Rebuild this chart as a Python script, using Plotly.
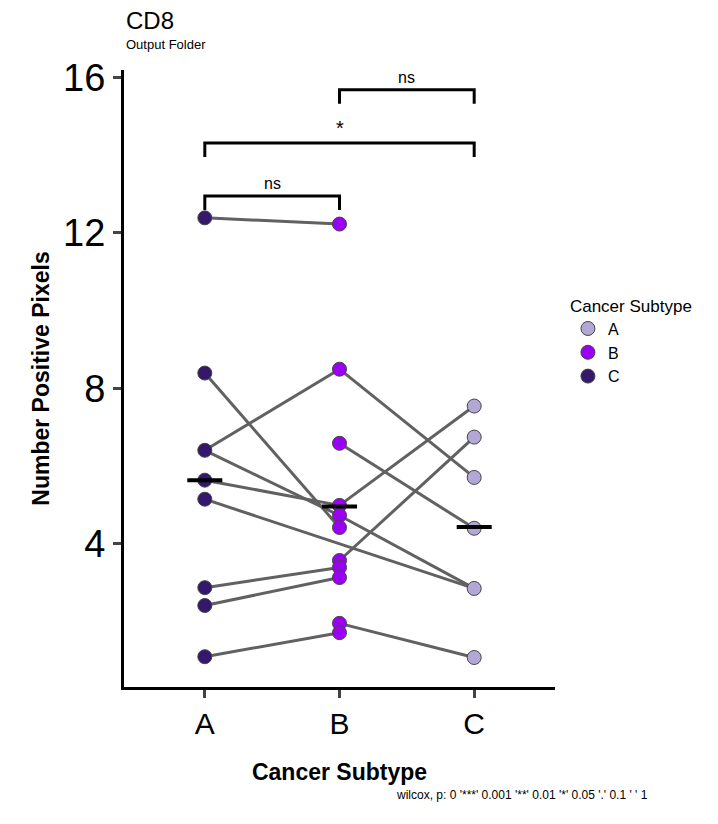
import plotly.graph_objects as go

groups = ['A', 'B', 'C']
colors = {'A': '#b3a7d6', 'B': '#9a00f2', 'C': '#33186b'}
# point colour in each x group
point_color = {'A': colors['C'], 'B': colors['B'], 'C': colors['A']}

vals_a = [12.39, 8.39, 6.40, 5.63, 5.14, 2.86, 2.40, 1.08]
vals_b = [12.23, 8.49, 6.58, 4.98, 4.72, 4.41, 3.56, 3.38, 3.12, 1.94, 1.70]
vals_c = [7.54, 6.74, 5.70, 4.39, 2.84, 1.06]
medians = [5.63, 4.95, 4.42]

# paired connections (group1, value1, group2, value2)
pairs = [
    ('A', 12.39, 'B', 12.23),
    ('A', 8.39, 'B', 4.41),
    ('A', 6.40, 'B', 8.49),
    ('B', 8.49, 'C', 5.70),
    ('A', 6.40, 'B', 4.72),
    ('B', 4.72, 'C', 2.84),
    ('A', 5.63, 'B', 4.98),
    ('A', 5.14, 'C', 2.84),
    ('B', 6.58, 'C', 4.39),
    ('B', 4.98, 'C', 7.54),
    ('B', 3.56, 'C', 6.74),
    ('A', 2.86, 'B', 3.38),
    ('A', 2.40, 'B', 3.12),
    ('A', 1.08, 'B', 1.70),
    ('B', 1.94, 'C', 1.06),
]

brackets = [('A', 'B', 12.95, 'ns'), ('A', 'C', 14.32, '*'), ('B', 'C', 15.69, 'ns')]

idx = {g: i for i, g in enumerate(groups)}
fig = go.Figure()

for g1, v1, g2, v2 in pairs:
    fig.add_trace(go.Scatter(x=[idx[g1], idx[g2]], y=[v1, v2], mode='lines',
                             line=dict(color='#616161', width=3), showlegend=False, hoverinfo='skip'))

for g, vals in zip(groups, [vals_a, vals_b, vals_c]):
    fig.add_trace(go.Scatter(x=[idx[g]] * len(vals), y=vals, mode='markers', showlegend=False,
                             marker=dict(size=14, color=point_color[g], line=dict(color='#444', width=1))))

for i, m in enumerate(medians):
    fig.add_shape(type='line', x0=i - 0.13, x1=i + 0.13, y0=m, y1=m, line=dict(color='black', width=4))

for g1, g2, y, lab in brackets:
    fig.add_trace(go.Scatter(x=[idx[g1], idx[g1], idx[g2], idx[g2]], y=[y - 0.36, y, y, y - 0.36],
                             mode='lines', line=dict(color='black', width=3), showlegend=False, hoverinfo='skip'))
    fig.add_annotation(x=(idx[g1] + idx[g2]) / 2, y=y, text=lab, showarrow=False, yanchor='bottom',
                       yshift=2, font=dict(size=16 if lab == 'ns' else 20, color='black'))

for g in groups:
    fig.add_trace(go.Scatter(x=[None], y=[None], mode='markers', name=g,
                             marker=dict(size=14, color=colors[g], line=dict(color='#444', width=1))))

fig.update_layout(
    width=718, height=824, plot_bgcolor='white', paper_bgcolor='white',
    font=dict(family='Liberation Sans, Arial', color='black'),
    margin=dict(l=116, r=171, t=62, b=145),
    legend=dict(title=dict(text='Cancer Subtype', font=dict(size=17)), font=dict(size=16),
                x=1.03, y=0.56, yanchor='middle', bgcolor='white'),
    xaxis=dict(range=[-0.6, 2.6], tickvals=[0, 1, 2], ticktext=groups, showline=True, linewidth=3,
               linecolor='black', ticks='outside', ticklen=8, tickwidth=3, tickfont=dict(size=30),
               showgrid=False, zeroline=False,
               title=dict(text='<b>Cancer Subtype</b>', font=dict(size=23), standoff=25)),
    yaxis=dict(range=[0.3, 16.2], tickvals=[4, 8, 12, 16], showline=True, linewidth=3,
               linecolor='black', ticks='outside', ticklen=8, tickwidth=3, tickfont=dict(size=38),
               showgrid=False, zeroline=False,
               title=dict(text='<b>Number Positive Pixels</b>', font=dict(size=23), standoff=8)),
)
fig.add_annotation(text='CD8', xref='paper', yref='paper', x=0, y=1, xanchor='left', yanchor='bottom',
                   yshift=34, showarrow=False, font=dict(size=24))
fig.add_annotation(text='Output Folder', xref='paper', yref='paper', x=0, y=1, xanchor='left',
                   yanchor='bottom', yshift=16, showarrow=False, font=dict(size=13))
fig.add_annotation(text="wilcox, p: 0 '***' 0.001 '**' 0.01 '*' 0.05 '.' 0.1 ' ' 1", xref='paper', yref='paper',
                   x=1.22, y=-0.16, xanchor='right', yanchor='top', showarrow=False, font=dict(size=12))

fig.write_html('out.html')
